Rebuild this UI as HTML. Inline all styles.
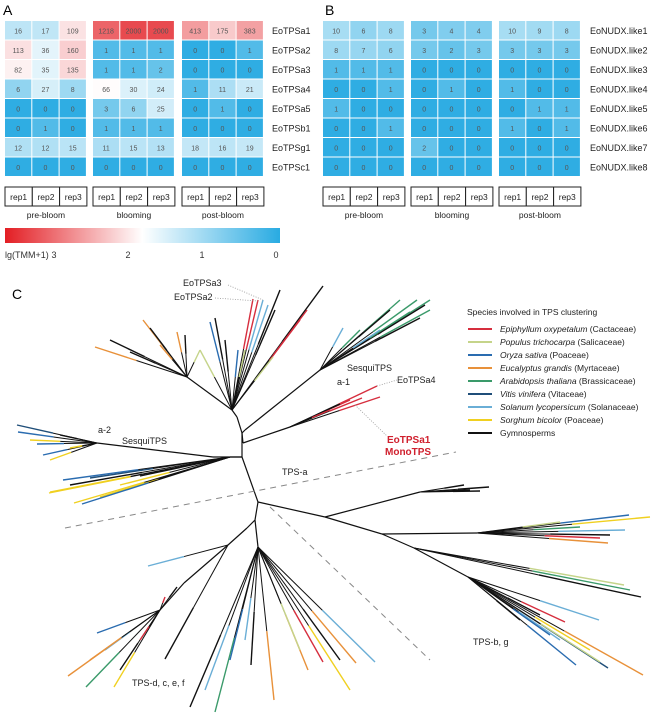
<!DOCTYPE html>
<html><head><meta charset="utf-8"><style>
body{margin:0;background:#fff}
svg{display:block;font-family:"Liberation Sans",Arial,sans-serif}
</style></head><body>
<svg id="fig" width="658" height="713" viewBox="0 0 658 713" xmlns="http://www.w3.org/2000/svg">
<defs><linearGradient id="cb" x1="0" x2="1" y1="0" y2="0"><stop offset="0" stop-color="#e31e24"/><stop offset="0.5" stop-color="#ffffff"/><stop offset="1" stop-color="#29abe2"/></linearGradient></defs>
<text x="3" y="15" font-size="14">A</text>
<text x="325" y="15" font-size="14">B</text>
<text x="12" y="299" font-size="14">C</text>
<g id="heat"></g>
<rect x="5" y="228" width="275" height="15" fill="url(#cb)"/>
<text x="5" y="258" font-size="9" fill="#333">lg(TMM+1)</text>
<g id="cbt" font-size="9" fill="#333"></g>
<g id="tree"></g>
<g id="legend"></g>
<g font-size="9" fill="#222">
<text x="183" y="286">EoTPSa3</text>
<text x="174" y="300">EoTPSa2</text>
<text x="347" y="371">SesquiTPS</text>
<text x="337" y="385">a-1</text>
<text x="397" y="383">EoTPSa4</text>
<text x="98" y="433">a-2</text>
<text x="122" y="444">SesquiTPS</text>
<text x="282" y="475">TPS-a</text>
<text x="473" y="645">TPS-b, g</text>
<text x="132" y="686">TPS-d, c, e, f</text>
<text x="387" y="443" fill="#d0202e" font-weight="bold" font-size="10">EoTPSa1</text>
<text x="385" y="455" fill="#d0202e" font-weight="bold" font-size="10">MonoTPS</text>
</g>
</svg>
<script>
const NS="http://www.w3.org/2000/svg";
function mk(tag,attrs,parent){const e=document.createElementNS(NS,tag);for(const k in attrs)e.setAttribute(k,attrs[k]);parent.appendChild(e);return e;}
const reps=["rep1","rep2","rep3"];
const stages=["pre-bloom","blooming","post-bloom"];
const genesA=["EoTPSa1","EoTPSa2","EoTPSa3","EoTPSa4","EoTPSa5","EoTPSb1","EoTPSg1","EoTPSc1"];
const valuesA=[[16,17,109,1218,2000,2000,413,175,383],[113,36,160,1,1,1,0,0,1],[82,35,135,1,1,2,0,0,0],[6,27,8,66,30,24,1,11,21],[0,0,0,3,6,25,0,1,0],[0,1,0,1,1,1,0,0,0],[12,12,15,11,15,13,18,16,19],[0,0,0,0,0,0,0,0,0]];
const genesB=["EoNUDX.like1","EoNUDX.like2","EoNUDX.like3","EoNUDX.like4","EoNUDX.like5","EoNUDX.like6","EoNUDX.like7","EoNUDX.like8"];
const valuesB=[[10,6,8,3,4,4,10,9,8],[8,7,6,3,2,3,3,3,3],[1,1,1,0,0,0,0,0,0],[0,0,1,0,1,0,1,0,0],[1,0,0,0,0,0,0,1,1],[0,0,1,0,0,0,1,0,1],[0,0,0,2,0,0,0,0,0],[0,0,0,0,0,0,0,0,0]];
const cbTicks=[3,2,1,0];
function valX(v){return 276-74*v;}
function color(n){const v=Math.log10(n+1);let f=(valX(v)-5)/275;f=Math.max(0,Math.min(1,f));
 const r=[227,30,36],w=[255,255,255],b=[41,171,226];let c;
 if(f<0.5){const t=f/0.5;c=r.map((x,i)=>x+(w[i]-x)*t);}else{const t=(f-0.5)/0.5;c=w.map((x,i)=>x+(b[i]-x)*t);}
 return "rgb("+c.map(Math.round).join(",")+")";}
const heat=document.getElementById("heat");
function panel(genes,vals,gx,lx,key){
 const cw=27.3,rh=19.5,y0=21;
 genes.forEach((g,r)=>{
  vals[r].forEach((v,c)=>{const gi=Math.floor(c/3),ci=c%3;const x=gx[gi]+ci*cw,y=y0+r*rh;
   const rc=mk("rect",{x:x,y:y,width:cw-1,height:rh-1,fill:color(v)},heat);
   
   
   const t=mk("text",{x:x+cw/2-0.5,y:y+rh/2+2.5,"font-size":7,"text-anchor":"middle",fill:"#555"},heat);t.textContent=v;
   
   
  });
  const t=mk("text",{x:lx,y:y0+r*rh+rh/2+3,"font-size":9,fill:"#222"},heat);t.textContent=g;
  
  
 });
 gx.forEach((x,gi)=>{
  reps.forEach((rp,ci)=>{const b=mk("rect",{x:x+ci*cw,y:187,width:cw,height:19,fill:"#fff",stroke:"#222","stroke-width":1},heat);
   
   
   const t=mk("text",{x:x+ci*cw+cw/2,y:200,"font-size":8.5,"text-anchor":"middle",fill:"#222"},heat);t.textContent=rp;
   
   });
  const t=mk("text",{x:x+cw*1.5,y:218,"font-size":8.5,"text-anchor":"middle",fill:"#222"},heat);t.textContent=stages[gi];
  
  
 });
}
panel(genesA,valuesA,[5,93,182],272,"a");
panel(genesB,valuesB,[323,411,499],590,"b");
const cbt=document.getElementById("cbt");
cbTicks.forEach(v=>{const t=mk("text",{x:valX(v)-(v===3?-0:0),y:258,"text-anchor":"middle"},cbt);t.textContent=v;
 
 });
// tree
const C={r:"#d62e3e",y:"#c5d48a",b:"#2a6cb0",o:"#e8913a",g:"#3a9a6a",d:"#1f4e79",l:"#6aaed6",s:"#f0d020",k:"#111"};
const trunks=[[242,433,237,417],[237,417,232,410],[232,410,187,377],[242,433,245,430],[245,430,320,370],[242,433,243,443],[243,443,290,427],[242,433,242,457],[242,457,213,457],[213,457,97,443],[242,457,230,457],[242,457,258,502],[258,502,325,517],[325,517,382,534],[382,534,414,548],[414,548,468,577],[382,534,477,533],[325,517,420,492],[258,502,255,520],[255,520,247,528],[247,528,228,545],[228,545,184,583],[255,520,258,547],[184,583,160,610]];
const fans=[
 [187,377,[[95,347,"o"],[110,340,"k"],[143,320,"o"],[150,328,"k"],[177,332,"o"],[160,345,"o"],[130,352,"k"],[200,350,"y"],[185,335,"k"]]],
 [232,410,[[210,322,"b"],[215,318,"k"],[238,350,"b"],[225,340,"k"],[253,299,"r"],[258,300,"r"],[263,300,"l"],[268,305,"l"],[280,290,"k"],[323,286,"k"],[307,310,"r"],[300,320,"r"],[273,357,"y"],[245,350,"y"],[200,350,"y"],[275,310,"k"]]],
 [320,370,[[430,310,"g"],[417,300,"g"],[430,300,"g"],[425,305,"k"],[410,312,"g"],[400,300,"g"],[343,328,"l"],[360,330,"g"],[390,310,"k"],[420,318,"k"],[380,330,"l"]]],
 [290,427,[[377,386,"r"],[380,397,"r"],[362,398,"r"],[350,400,"r"],[340,404,"k"],[330,410,"r"]]],
 [97,443,[[17,425,"d"],[18,432,"b"],[37,444,"b"],[43,455,"b"],[50,460,"s"],[30,440,"s"],[60,435,"k"],[70,448,"s"]]],
 [230,457,[[50,492,"s"],[63,480,"b"],[100,497,"s"],[49,493,"s"],[74,503,"s"],[82,504,"b"],[70,485,"k"],[120,485,"s"],[90,478,"d"],[140,476,"k"]]],
 [420,492,[[464,485,"k"],[489,487,"k"],[470,490,"k"],[480,491,"k"]]],
 [477,533,[[650,517,"s"],[629,515,"b"],[608,543,"o"],[600,538,"r"],[625,530,"l"],[580,527,"g"],[610,535,"k"],[560,522,"y"]]],
 [414,548,[[624,585,"y"],[641,597,"k"],[630,590,"g"]]],
 [468,577,[[599,620,"l"],[565,622,"r"],[576,665,"b"],[608,668,"d"],[643,675,"o"],[590,650,"s"],[560,640,"l"],[540,615,"k"],[600,662,"y"],[550,635,"b"],[520,620,"k"]]],
 [258,547,[[190,707,"k"],[215,712,"g"],[205,690,"l"],[230,660,"b"],[251,665,"k"],[274,700,"o"],[308,670,"o"],[323,662,"r"],[300,650,"y"],[350,690,"s"],[356,663,"o"],[375,662,"l"],[340,660,"k"],[245,640,"l"]]],
 [228,545,[[165,659,"k"],[148,566,"l"]]],
 [160,610,[[68,676,"o"],[86,687,"g"],[97,633,"b"],[114,687,"s"],[165,597,"r"],[105,650,"l"],[120,670,"k"],[90,660,"o"],[140,640,"r"],[177,587,"k"]]]
];
const tree=document.getElementById("tree");
trunks.forEach(s=>{const l=mk("line",{x1:s[0],y1:s[1],x2:s[2],y2:s[3],stroke:"#111","stroke-width":1.2},tree);
 
 });
fans.forEach(f=>{f[2].forEach(e=>{const mx=f[0]+(e[0]-f[0])*0.55,my=f[1]+(e[1]-f[1])*0.55;
 const a=mk("line",{x1:f[0],y1:f[1],x2:mx,y2:my,stroke:"#111","stroke-width":1},tree);
 
 
 const b=mk("line",{x1:mx,y1:my,x2:e[0],y2:e[1],stroke:C[e[2]],"stroke-width":1.4},tree);
 
 });});
[[65,528,456,452,"6,5"],[270,507,430,660,"6,5"]].forEach(d=>{const l=mk("line",{x1:d[0],y1:d[1],x2:d[2],y2:d[3],stroke:"#888","stroke-width":1,"stroke-dasharray":d[4]},tree);
 
 });
[[215,298,258,301],[228,285,263,300],[377,386,397,380],[355,405,387,436]].forEach(d=>{const l=mk("line",{x1:d[0],y1:d[1],x2:d[2],y2:d[3],stroke:"#999","stroke-width":0.8,"stroke-dasharray":"1,1.5"},tree);
 
 });
// legend
const legItems=[["Epiphyllum oxypetalum"," (Cactaceae)","r"],["Populus trichocarpa"," (Salicaceae)","y"],["Oryza sativa"," (Poaceae)","b"],["Eucalyptus grandis"," (Myrtaceae)","o"],["Arabidopsis thaliana"," (Brassicaceae)","g"],["Vitis vinifera"," (Vitaceae)","d"],["Solanum lycopersicum"," (Solanaceae)","l"],["Sorghum bicolor"," (Poaceae)","s"],["Gymnosperms","","k"]];
const leg=document.getElementById("legend");
const lt=mk("text",{x:467,y:315,"font-size":8.5,fill:"#222"},leg);lt.textContent="Species involved in TPS clustering";


legItems.forEach((it,i)=>{const y=329+i*13;
 const l=mk("line",{x1:468,y1:y,x2:492,y2:y,stroke:C[it[2]],"stroke-width":2},leg);
 
 
 const t=mk("text",{x:500,y:y+3,"font-size":8.5,fill:"#222"},leg);
 
 
 if(it[1]){const a=mk("tspan",{"font-style":"italic"},t);a.textContent=it[0];const b=mk("tspan",{},t);b.textContent=it[1];}else t.textContent=it[0];
});
</script>
</body></html>
